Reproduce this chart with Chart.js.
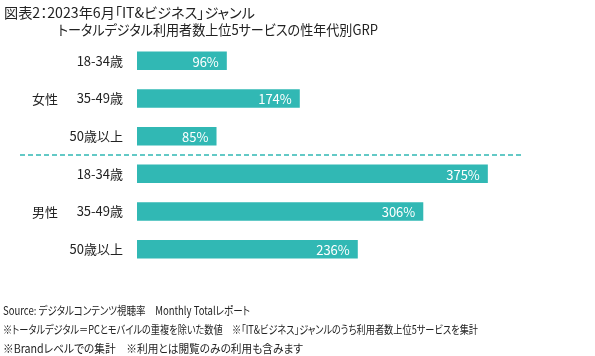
<!DOCTYPE html>
<html><head><meta charset="utf-8">
<script src="https://cdn.jsdelivr.net/npm/chart.js@4/dist/chart.umd.min.js"></script>
<style>
html,body{margin:0;padding:0;background:#fff;}
#wrap{position:relative;width:595px;height:356px;overflow:hidden;font-family:"Noto Sans CJK JP","Noto Sans",sans-serif;color:#222;}
#c{position:absolute;left:0;top:0;}
.t{position:absolute;white-space:nowrap;font-feature-settings:"palt";transform-origin:0 50%;}
</style></head><body>
<div id="wrap">
<canvas id="c" width="595" height="356"></canvas>
<div class="t fit" data-w="251" style="left:4px;top:2px;font-size:14px;">図表2：2023年6月「IT&amp;ビジネス」ジャンル</div>
<div class="t fit" data-w="320" style="left:58px;top:19px;font-size:14px;">トータルデジタル利用者数上位5サービスの性年代別GRP</div>
<div class="t fit" data-w="247" style="left:3px;top:302px;font-size:11.5px;">Source: デジタルコンテンツ視聴率　Monthly Totalレポート</div>
<div class="t fit" data-w="475" style="left:3px;top:321px;font-size:11.5px;">※トータルデジタル＝PCとモバイルの重複を除いた数値　※「IT&amp;ビジネス」ジャンルのうち利用者数上位5サービスを集計</div>
<div class="t fit" data-w="300" style="left:3px;top:340px;font-size:11.5px;">※Brandレベルでの集計　※利用とは閲覧のみの利用も含みます</div>
</div>
<script>
document.querySelectorAll('.fit').forEach(el=>{
  const w = el.getBoundingClientRect().width;
  el.style.transform = 'scaleX(' + (parseFloat(el.dataset.w)/w) + ')';
});
const categories = ["18-34歳","35-49歳","50歳以上","18-34歳","35-49歳","50歳以上"];
const groups = ["女性","男性"];
const values = [96,174,85,375,306,236];
const barColor = "#31b8b4";

const decor = {
  id:'decor',
  afterDatasetsDraw(chart){
    const ctx = chart.ctx, y = chart.scales.y, meta = chart.getDatasetMeta(0);
    ctx.save();
    ctx.font = '13px "Noto Sans CJK JP","Noto Sans",sans-serif';
    ctx.fillStyle = '#fff';
    ctx.textAlign = 'right';
    ctx.textBaseline = 'middle';
    meta.data.forEach((el,i)=>{
      ctx.fillText(values[i] + '%', el.x - 8, el.y + 1);
    });
    ctx.fillStyle = '#222';
    ctx.textAlign = 'left';
    ctx.fillText(groups[0], 32, y.getPixelForValue(1) + 1);
    ctx.fillText(groups[1], 32, y.getPixelForValue(4) + 1);
    const ly = (y.getPixelForValue(2) + y.getPixelForValue(3)) / 2;
    ctx.strokeStyle = barColor;
    ctx.lineWidth = 1.5;
    ctx.setLineDash([5,3]);
    ctx.beginPath();
    ctx.moveTo(20, ly);
    ctx.lineTo(522, ly);
    ctx.stroke();
    ctx.restore();
  }
};

new Chart(document.getElementById('c'), {
  type:'bar',
  data:{labels:categories, datasets:[{data:values, backgroundColor:barColor, borderWidth:0, barPercentage:0.49, categoryPercentage:1}]},
  options:{
    indexAxis:'y', responsive:false, animation:false,
    layout:{padding:{left:0,right:37,top:42,bottom:88}},
    plugins:{legend:{display:false}, tooltip:{enabled:false}},
    scales:{
      x:{display:false, min:0, max:450},
      y:{
        grid:{display:false, drawTicks:false}, border:{display:false},
        ticks:{color:'#222', padding:14, font:{size:13, family:'"Noto Sans CJK JP","Noto Sans",sans-serif'}},
        afterFit(s){ s.width = 137; }
      }
    }
  },
  plugins:[decor]
});
</script>
</body></html>
